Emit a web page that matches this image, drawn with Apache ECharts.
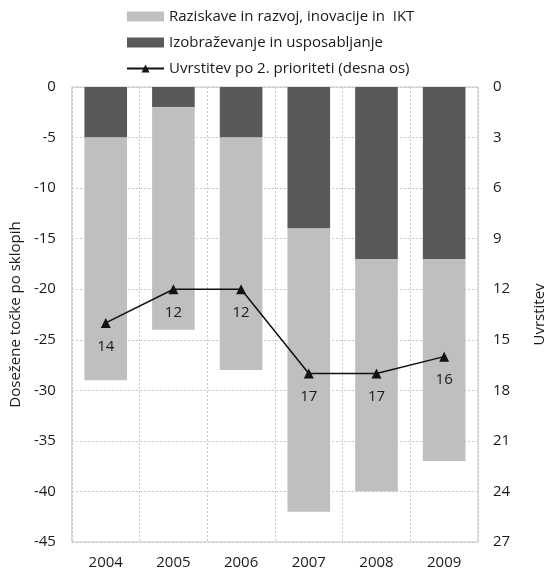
<!DOCTYPE html>
<html>
<head>
<meta charset="utf-8">
<script src="https://cdn.jsdelivr.net/npm/echarts@6/dist/echarts.min.js"></script>
<style>
    html, body { margin: 0; padding: 0; background: #fff; }
    #chart { width: 555px; height: 574px; }
</style>
</head>
<body>
<div id="chart"></div>
<script>
// 数据
var years = ['2004', '2005', '2006', '2007', '2008', '2009'];
var izobrazevanje = [-5, -2, -5, -14, -17, -17];
var raziskave = [-24, -22, -23, -28, -23, -20];
var uvrstitev = [14, 12, 12, 17, 17, 16];
var leftTicks = {min: -45, max: 0, interval: 5};
var rightTicks = {min: 0, max: 27, interval: 3};

var fontName = 'Open Sans';

/**
 * 图表初始化
 */
function rankingChart() {
    var myChart = echarts.init(document.getElementById('chart'), null, {renderer: 'canvas'});
    var option = {
        animation: false,
        textStyle: {fontFamily: fontName, color: '#1a1a1a'},
        legend: {
            orient: 'vertical',
            left: 121,
            top: 4,
            itemWidth: 37,
            itemHeight: 10,
            itemGap: 11,
            textStyle: {fontSize: 15, color: '#1a1a1a', fontFamily: fontName},
            data: [
                {name: 'Raziskave in razvoj, inovacije in  IKT', icon: 'rect'},
                {name: 'Izobraževanje in usposabljanje', icon: 'rect'},
                {name: 'Uvrstitev po 2. prioriteti (desna os)'}
            ]
        },
        grid: {
            left: 71,
            right: 68,
            top: 87,
            bottom: 32,
            show: true,
            borderColor: '#c4c4c4',
            borderWidth: 1
        },
        xAxis: {
            type: 'category',
            data: years,
            axisLine: {show: false},
            axisTick: {show: false},
            axisLabel: {fontSize: 15, color: '#1a1a1a', margin: 13},
            splitLine: {show: true, lineStyle: {color: '#c8c8c8', type: [2, 2]}}
        },
        yAxis: [
            {
                type: 'value',
                min: leftTicks.min,
                max: leftTicks.max,
                interval: leftTicks.interval,
                name: 'Dosežene točke po sklopih',
                nameLocation: 'middle',
                nameGap: 46,
                nameTextStyle: {fontSize: 15, color: '#1a1a1a'},
                axisLine: {show: false},
                axisTick: {show: false},
                axisLabel: {fontSize: 15, color: '#1a1a1a', margin: 16},
                splitLine: {show: true, lineStyle: {color: '#c8c8c8', type: [2, 2]}}
            },
            {
                type: 'value',
                inverse: true,
                min: rightTicks.min,
                max: rightTicks.max,
                interval: rightTicks.interval,
                name: 'Uvrstitev',
                nameLocation: 'middle',
                nameGap: 54,
                nameTextStyle: {fontSize: 15, color: '#1a1a1a'},
                axisLine: {show: false},
                axisTick: {show: false},
                axisLabel: {fontSize: 15, color: '#1a1a1a', margin: 15},
                splitLine: {show: false}
            }
        ],
        series: [
            {
                name: 'Izobraževanje in usposabljanje',
                type: 'bar',
                stack: 'tocke',
                barWidth: '63%',
                itemStyle: {color: '#595959'},
                data: izobrazevanje
            },
            {
                name: 'Raziskave in razvoj, inovacije in  IKT',
                type: 'bar',
                stack: 'tocke',
                barWidth: '63%',
                itemStyle: {color: '#bfbfbf'},
                data: raziskave
            },
            {
                name: 'Uvrstitev po 2. prioriteti (desna os)',
                type: 'line',
                yAxisIndex: 1,
                symbol: 'triangle',
                symbolSize: 10,
                lineStyle: {color: '#111', width: 1.5},
                itemStyle: {color: '#111'},
                label: {
                    show: true,
                    position: 'bottom',
                    distance: 11,
                    fontSize: 15,
                    color: '#1a1a1a'
                },
                data: uvrstitev
            }
        ]
    };
    myChart.setOption(option, true);
}

rankingChart();
</script>
</body>
</html>
